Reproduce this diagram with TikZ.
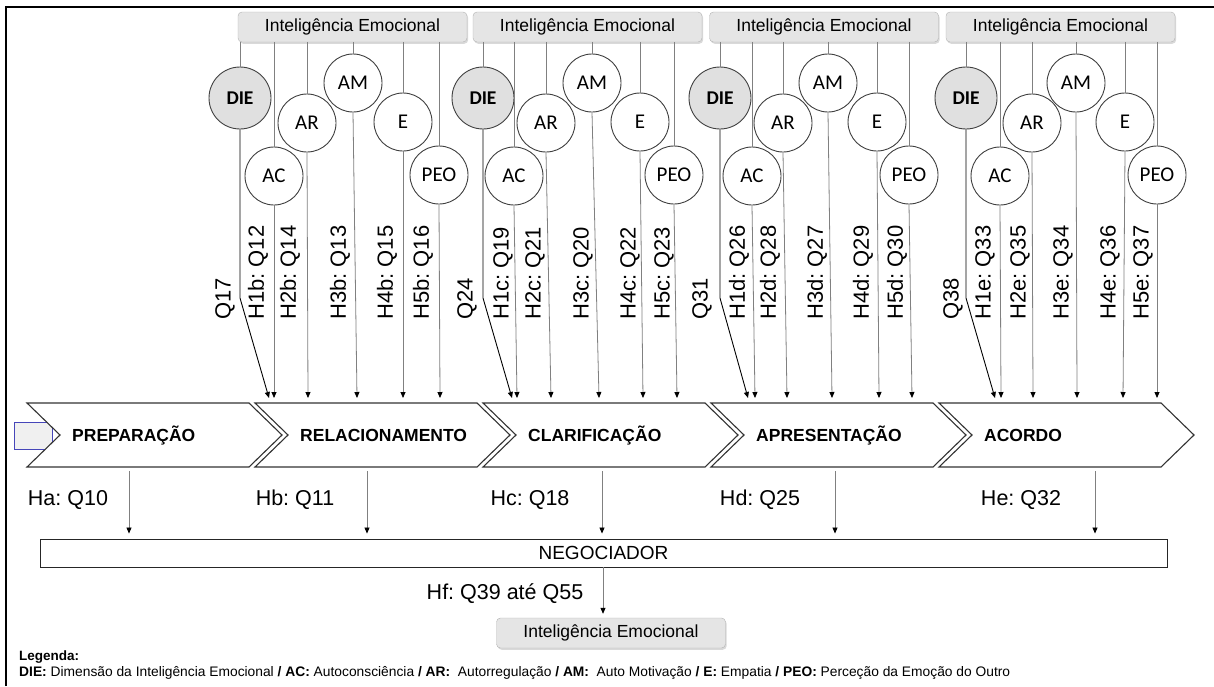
\documentclass[tikz,border=0pt]{standalone}
\usepackage{fontspec}
\setmainfont{Liberation Sans}
\newfontfamily\calfont{Carlito}
\usetikzlibrary{arrows.meta,shadows}
\frenchspacing
\begin{document}
\begin{tikzpicture}[x=1pt,y=-1pt,
  iebox/.style={draw=black!30, fill=black!10, rounded corners=4pt, minimum width=229pt, minimum height=30pt, inner sep=0pt,
    font=\fontsize{17.5}{19}\selectfont, drop shadow={opacity=0.3, shadow xshift=1.2pt, shadow yshift=-1.8pt}},
  dimc/.style={circle, draw=black!75, line width=0.9pt, minimum size=58pt, inner sep=0pt, fill=white,
    font=\calfont\fontsize{21}{22}\selectfont},
  diec/.style={dimc, minimum size=62pt, fill=black!12, font=\calfont\bfseries\fontsize{19.5}{20}\selectfont},
  conn/.style={draw=black!50, line width=0.8pt},
  arr/.style={conn, -{Triangle[width=5pt,length=6pt,color=black]}},
  diearr/.style={draw=black, line width=0.9pt, -{Triangle[width=5pt,length=6pt]}},
  qlab/.style={rotate=90, anchor=west, inner sep=0pt, font=\fontsize{22}{24}\selectfont},
  hlab/.style={inner sep=0pt, font=\fontsize{21.5}{24}\selectfont},
  chev/.style={draw=black!80, line width=1.1pt, fill=white, line join=miter},
  chevtxt/.style={anchor=base west, inner sep=0pt, font=\bfseries\fontsize{17.5}{20}\selectfont}
]
\useasboundingbox (0,0) rectangle (1214,686);
% frame
\draw[line width=1.8pt] (6,686) -- (6,7) -- (1214,7);

% small box at left
\draw[draw=blue!45!gray, fill=black!6, line width=0.8pt] (14,422) rectangle (52,449);

% chevrons
\foreach \s/\t [count=\i] in {27/PREPARAÇÃO,255/RELACIONAMENTO,483/CLARIFICAÇÃO,711/APRESENTAÇÃO,939/ACORDO}{
  \draw[chev] (\s,403) -- (\s+222,403) -- (\s+255,435) -- (\s+222,467) -- (\s,467) -- (\s+33,435) -- cycle;
  \node[chevtxt] (ch\i) at (\s+45,441.5) {\t};
}

% groups
\foreach \g/\bx/\xd/\xac/\xar/\xam/\xe/\xp/\ed/\eac/\ear/\eam/\ee/\ep in {
  1/352.5/240/274/307/353/403/439/269/274/308/357/403/440,
  2/587.5/483/514/546/592/640/674/512/517/551/599/643/677,
  3/824/720/752/783/828/877/909/748/755/787/832/879/912,
  4/1060.5/966/1000/1032/1076/1125/1157/995/1001/1033/1077/1123/1157}{
  \node[iebox] (ie\g) at (\bx,27) {Inteligência Emocional};
  \node[diec] (die\g) at (\xd,98) {DIE};
  \node[dimc] (ac\g) at (\xac,176) {AC};
  \node[dimc] (ar\g) at (\xar,123) {AR};
  \node[dimc] (am\g) at (\xam,83) {AM};
  \node[dimc] (e\g) at (\xe,122) {E};
  \node[dimc] (peo\g) at (\xp,175) {PEO};
  \coordinate (bend\g) at (\xd,298);
  \coordinate (tdie\g) at (\ed,398);
  \coordinate (tac\g) at (\eac,398);
  \coordinate (tar\g) at (\ear,398);
  \coordinate (tam\g) at (\eam,398);
  \coordinate (te\g) at (\ee,398);
  \coordinate (tpeo\g) at (\ep,398);
  \foreach \c in {die,ac,ar,am,e,peo}{
    \draw[conn] (ie\g.south -| \c\g.north) -- (\c\g.north);
  }
  \draw[diearr] (die\g.south) -- (bend\g) -- (tdie\g);
  \foreach \c in {ac,ar,am,e,peo}{
    \draw[arr] (\c\g.south) -- (t\c\g);
  }
}

% rotated labels
\foreach \x/\t [count=\i] in {225/Q17,258/H1b: Q12,290/H2b: Q14,340/H3b: Q13,387/H4b: Q15,423/H5b: Q16,
  467/Q24,503/H1c: Q19,535/H2c: Q21,583/H3c: Q20,630/H4c: Q22,664/H5c: Q23,
  702/Q31,739/H1d: Q26,770/H2d: Q28,817/H3d: Q27,863/H4d: Q29,897/H5d: Q30,
  953/Q38,985/H1e: Q33,1020/H2e: Q35,1063/H3e: Q34,1110/H4e: Q36,1143/H5e: Q37}{
  \node[qlab] (ql\i) at (\x,320) {\t};
}

% negociador
\node[draw=black!85, line width=0.9pt, minimum width=1127pt, minimum height=28pt, inner sep=0pt,
  font=\fontsize{19}{21}\selectfont] (neg) at (603.5,553) {NEGOCIADOR};

\foreach \x/\lx/\t [count=\i] in {129/68/Ha: Q10,367/295/Hb: Q11,602/530/Hc: Q18,835/760/Hd: Q25,1095/1021/He: Q32}{
  \coordinate (s\i) at (\x,471);
  \draw[arr, shorten >=5pt] (s\i) -- (s\i |- neg.north);
  \node[hlab] (h\i) at (\lx,500) {\t};
}

\node[hlab] (hf) at (505,594) {Hf: Q39 até Q55};
\node[iebox] (iebot) at (611,633) {Inteligência Emocional};
\coordinate (nf) at (603,567);
\draw[arr, shorten >=4pt] (nf) -- (nf |- iebot.north);

% legend
\node[anchor=west, inner sep=0pt, font=\bfseries\fontsize{13.5}{15}\selectfont] (leg) at (19,657) {Legenda:};
\node[anchor=west, inner sep=0pt, font=\fontsize{13.8}{15}\selectfont] (legtxt) at (19,673)
  {\textbf{DIE:} Dimensão da Inteligência Emocional \textbf{/ AC:} Autoconsciência \textbf{/ AR:}\ \ Autorregulação \textbf{/ AM:}\ \ Auto Motivação \textbf{/ E:} Empatia \textbf{/ PEO:} Perceção da Emoção do Outro};
\end{tikzpicture}
\end{document}
